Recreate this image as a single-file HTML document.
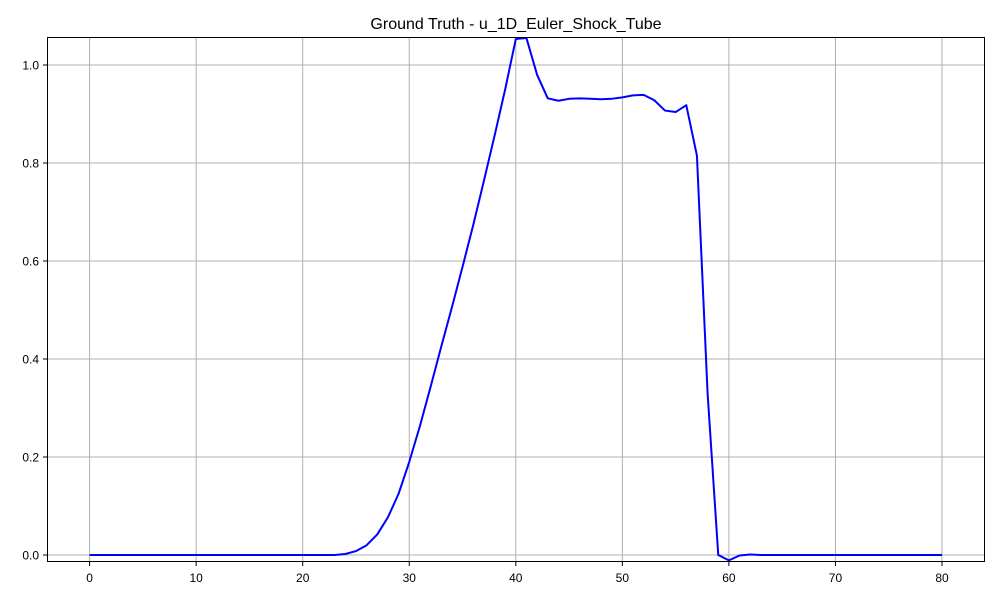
<!DOCTYPE html>
<html><head><meta charset="utf-8"><style>
html,body{margin:0;padding:0;background:#fff;}
text{font-family:"Liberation Sans",sans-serif;}
</style></head><body>
<svg id="chart" width="1000" height="600" xmlns="http://www.w3.org/2000/svg">
<rect width="1000" height="600" fill="#fff"/>
<text x="516" y="29" text-anchor="middle" font-size="16">Ground Truth - u_1D_Euler_Shock_Tube</text>
<g id="grid"></g>
<g id="ticks"></g>
<path id="series" fill="none" stroke="#0000ff" stroke-width="2" stroke-linejoin="round"></path>
<rect x="47.5" y="37.5" width="937" height="524" fill="none" stroke="#000" stroke-width="1"/>
</svg>
<script>
const xTicks = [0,10,20,30,40,50,60,70,80];
const yTicks = [0.0,0.2,0.4,0.6,0.8,1.0];
const yTickLabels = ["0.0","0.2","0.4","0.6","0.8","1.0"];
const xValues = [0,1,2,3,4,5,6,7,8,9,10,11,12,13,14,15,16,17,18,19,20,21,22,23,24,25,26,27,28,29,30,31,32,33,34,35,36,37,38,39,40,41,42,43,44,45,46,47,48,49,50,51,52,53,54,55,56,57,58,59,60,61,62,63,64,65,66,67,68,69,70,71,72,73,74,75,76,77,78,79,80];
const yValues = [0,0,0,0,0,0,0,0,0,0,0,0,0,0,0,0,0,0,0,0,0,0,0,0,0.002,0.008,0.02,0.042,0.077,0.125,0.19,0.263,0.343,0.425,0.505,0.588,0.673,0.763,0.855,0.95,1.053,1.055,0.98,0.932,0.927,0.931,0.932,0.931,0.930,0.931,0.934,0.938,0.939,0.928,0.907,0.904,0.918,0.815,0.33,0.0,-0.011,-0.001,0.001,0,0,0,0,0,0,0,0,0,0,0,0,0,0,0,0,0,0];

const X0=89.6, XS=(942-89.6)/80;
const Y0=555, YS=490;
function xs(v){return X0+v*XS;}
function ys(v){return Y0-v*YS;}
const NS="http://www.w3.org/2000/svg";
const grid=document.getElementById('grid'), ticks=document.getElementById('ticks');
xTicks.forEach(t=>{
  const x=xs(t);
  const l=document.createElementNS(NS,'line');
  l.setAttribute('x1',x);l.setAttribute('x2',x);l.setAttribute('y1',37.5);l.setAttribute('y2',561.5);
  l.setAttribute('stroke','#b0b0b0');l.setAttribute('stroke-width','1');
  
  
  grid.appendChild(l);
  const tk=document.createElementNS(NS,'line');
  tk.setAttribute('x1',x);tk.setAttribute('x2',x);tk.setAttribute('y1',561.5);tk.setAttribute('y2',566);
  tk.setAttribute('stroke','#000');
  
  
  ticks.appendChild(tk);
  const tx=document.createElementNS(NS,'text');
  tx.setAttribute('x',x);tx.setAttribute('y',582);tx.setAttribute('text-anchor','middle');tx.setAttribute('font-size','12');
  tx.textContent=t;
  
  
  ticks.appendChild(tx);
});
yTicks.forEach((t,i)=>{
  const y=ys(t);
  const l=document.createElementNS(NS,'line');
  l.setAttribute('x1',47.5);l.setAttribute('x2',984.5);l.setAttribute('y1',y);l.setAttribute('y2',y);
  l.setAttribute('stroke','#b0b0b0');l.setAttribute('stroke-width','1');
  
  
  grid.appendChild(l);
  const tk=document.createElementNS(NS,'line');
  tk.setAttribute('x1',43);tk.setAttribute('x2',47.5);tk.setAttribute('y1',y);tk.setAttribute('y2',y);
  tk.setAttribute('stroke','#000');
  
  
  ticks.appendChild(tk);
  const tx=document.createElementNS(NS,'text');
  tx.setAttribute('x',39);tx.setAttribute('y',y+4.5);tx.setAttribute('text-anchor','end');tx.setAttribute('font-size','12');
  tx.textContent=yTickLabels[i];
  
  
  ticks.appendChild(tx);
});
document.getElementById('series').setAttribute('d',xValues.map((v,i)=>(i?'L':'M')+xs(v).toFixed(2)+','+ys(yValues[i]).toFixed(2)).join(' '));
</script>
</body></html>
